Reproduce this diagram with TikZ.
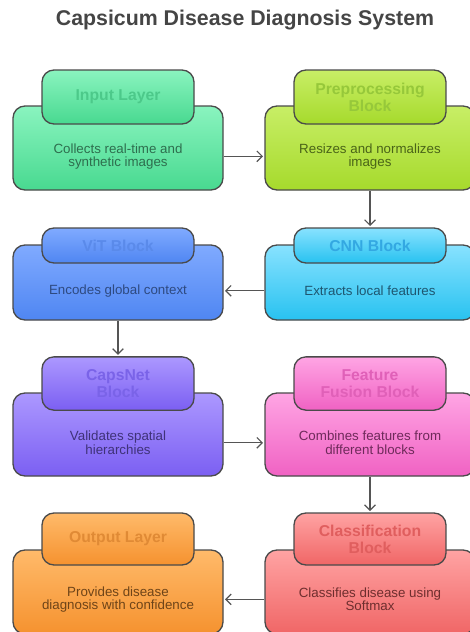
\documentclass[tikz,border=0pt]{standalone}
\usepackage{fontspec}
\setmainfont{Liberation Sans}
\usepackage{tikz}
\usetikzlibrary{positioning,arrows.meta,calc}
\definecolor{cdLine}{HTML}{4A4A4A}
\definecolor{cdArrow}{HTML}{555555}
\definecolor{cdTitle}{HTML}{454545}
% block colours: Top/Bot fill, Head header text, Text body text
\definecolor{inputTop}{HTML}{8AF4BF}\definecolor{inputBot}{HTML}{48D990}
\definecolor{inputHead}{HTML}{4CC98A}\definecolor{inputText}{HTML}{2E6E4E}
\definecolor{prepTop}{HTML}{C8EE66}\definecolor{prepBot}{HTML}{A6DA2C}
\definecolor{prepHead}{HTML}{96C83A}\definecolor{prepText}{HTML}{4A6418}
\definecolor{vitTop}{HTML}{80AAFF}\definecolor{vitBot}{HTML}{4F86F2}
\definecolor{vitHead}{HTML}{5A8AEA}\definecolor{vitText}{HTML}{2E4A80}
\definecolor{cnnTop}{HTML}{88E2FF}\definecolor{cnnBot}{HTML}{28C2F0}
\definecolor{cnnHead}{HTML}{33A8E2}\definecolor{cnnText}{HTML}{1E5670}
\definecolor{capsTop}{HTML}{AC98FF}\definecolor{capsBot}{HTML}{7B5FF2}
\definecolor{capsHead}{HTML}{7A63E8}\definecolor{capsText}{HTML}{3F3278}
\definecolor{fusionTop}{HTML}{FFA5E4}\definecolor{fusionBot}{HTML}{F062C3}
\definecolor{fusionHead}{HTML}{E060B8}\definecolor{fusionText}{HTML}{6E2A5A}
\definecolor{outTop}{HTML}{FFBA6A}\definecolor{outBot}{HTML}{F5922F}
\definecolor{outHead}{HTML}{E08A35}\definecolor{outText}{HTML}{6E4418}
\definecolor{clsTop}{HTML}{FFA3A3}\definecolor{clsBot}{HTML}{F06666}
\definecolor{clsHead}{HTML}{E05E5E}\definecolor{clsText}{HTML}{6E2E2E}

\tikzset{
  bodybox/.style={draw=cdLine, line width=1pt, rounded corners=9pt,
    top color=#1Top, bottom color=#1Bot, minimum width=157.5pt},
  headbox/.style={draw=cdLine, line width=1pt, rounded corners=9pt,
    top color=#1Top, bottom color=#1Bot, minimum width=114pt,
    text=#1Head, align=center, font=\bfseries\fontsize{11.8}{12.8}\selectfont},
  bodytext/.style={text=#1Text, align=center, font=\fontsize{10}{10}\selectfont},
  flow/.style={draw=cdArrow, line width=0.9pt, shorten >=1pt,
    -{Straight Barb[length=4pt,width=8pt]}},
}

\begin{document}
\begin{tikzpicture}[x=0.75pt, y=-0.75pt]
  \useasboundingbox (0,0) rectangle (470,632);
  \clip (0,0) rectangle (470,632);

  % Title
  \node[font=\bfseries\fontsize{16}{19}\selectfont, text=cdTitle] (title) at (245,20)
    {Capsicum Disease Diagnosis System};

  % Row 1
  \node[bodybox=input, minimum height=63pt] (inputbody) at (118,148) {};
  \node[headbox=input, minimum height=40.5pt] (inputhead) at (118,97) {Input Layer};
  \node[bodytext=input] (inputtext) at ([yshift=-6.2pt]inputbody.center) {Collects real-time and\\synthetic images};
  \node[bodybox=prep, minimum height=63pt] (prepbody) at (370,148) {};
  \node[headbox=prep, minimum height=40.5pt] (prephead) at (370,97) {Preprocessing\\Block};
  \node[bodytext=prep] (preptext) at ([yshift=-6.2pt]prepbody.center) {Resizes and normalizes\\images};

  % Row 2
  \node[bodybox=vit, minimum height=56.25pt] (vitbody) at (118,282.5) {};
  \node[headbox=vit, minimum height=26.25pt] (vithead) at (118,245.5) {ViT Block};
  \node[bodytext=vit] (vittext) at ([yshift=-6.2pt]vitbody.center) {Encodes global context};
  \node[bodybox=cnn, minimum height=56.25pt] (cnnbody) at (370,282.5) {};
  \node[headbox=cnn, minimum height=26.25pt] (cnnhead) at (370,245.5) {CNN Block};
  \node[bodytext=cnn] (cnntext) at ([yshift=-6.2pt]cnnbody.center) {Extracts local features};

  % Row 3
  \node[bodybox=caps, minimum height=62.25pt] (capsbody) at (118,434.5) {};
  \node[headbox=caps, minimum height=40pt] (capshead) at (118,383.5) {CapsNet\\Block};
  \node[bodytext=caps] (capstext) at ([yshift=-6.2pt]capsbody.center) {Validates spatial\\hierarchies};
  \node[bodybox=fusion, minimum height=62.25pt] (fusionbody) at (370,434.5) {};
  \node[headbox=fusion, minimum height=40pt] (fusionhead) at (370,383.5) {Feature\\Fusion Block};
  \node[bodytext=fusion] (fusiontext) at ([yshift=-6.2pt]fusionbody.center) {Combines features from\\different blocks};

  % Row 4
  \node[bodybox=out, minimum height=63pt] (outbody) at (118,592) {};
  \node[headbox=out, minimum height=39pt] (outhead) at (118,539) {Output Layer};
  \node[bodytext=out] (outtext) at ([yshift=-5.5pt]outbody.center) {Provides disease\\diagnosis with confidence};
  \node[bodybox=cls, minimum height=63pt] (clsbody) at (370,592) {};
  \node[headbox=cls, minimum height=39pt] (clshead) at (370,539) {Classification\\Block};
  \node[bodytext=cls] (clstext) at ([yshift=-5.5pt]clsbody.center) {Classifies disease using\\Softmax};

  % Flow
  \draw[flow] (inputbody.east |- inputtext) -- (prepbody.west |- inputtext);
  \draw[flow] (prepbody) -- (cnnhead);
  \draw[flow] (cnnbody.west |- cnntext) -- (vitbody.east |- cnntext);
  \draw[flow] (vitbody) -- (capshead);
  \draw[flow] (capsbody.east |- capstext) -- (fusionbody.west |- capstext);
  \draw[flow] (fusionbody) -- (clshead);
  \draw[flow] (clsbody.west |- clstext) -- (outbody.east |- clstext);
\end{tikzpicture}
\end{document}
